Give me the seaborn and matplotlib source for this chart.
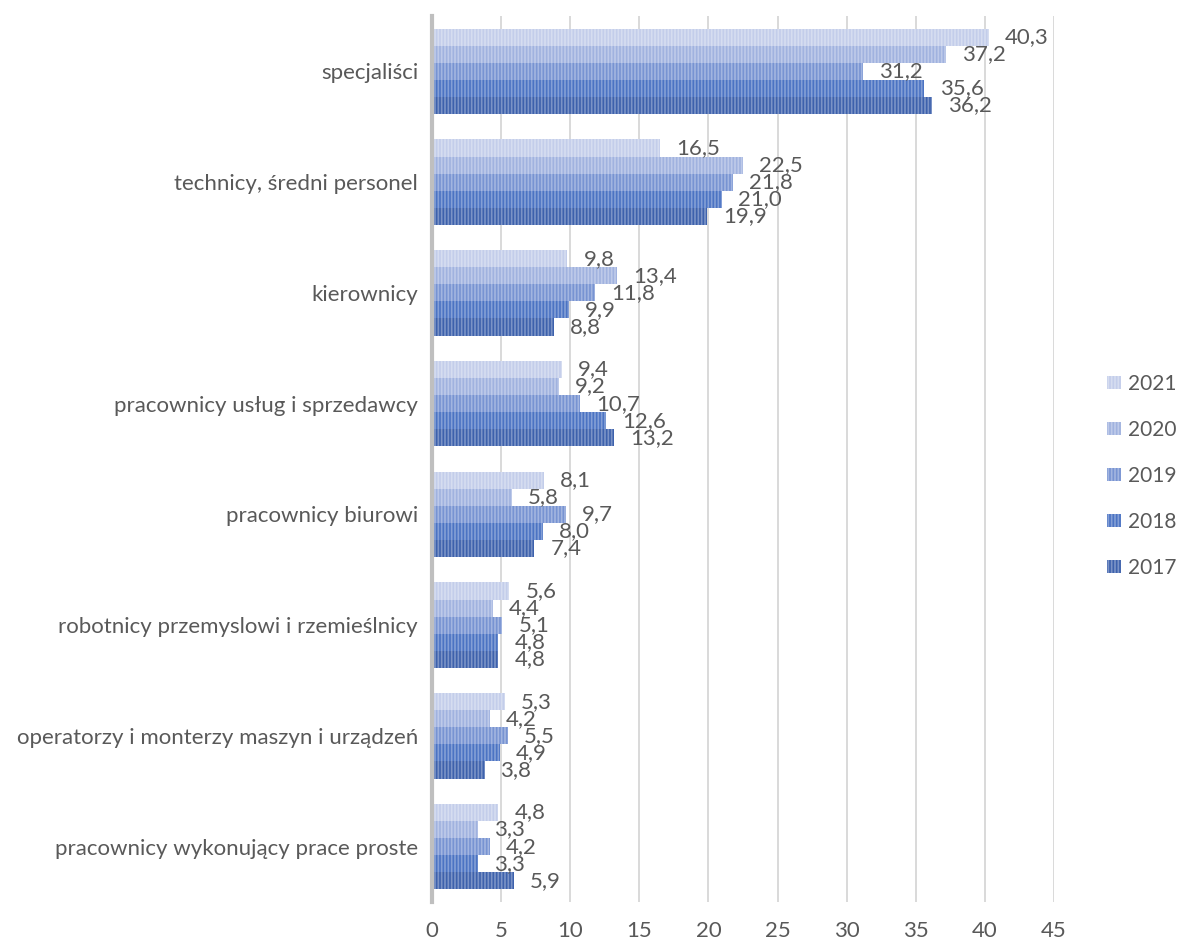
import matplotlib
matplotlib.use("Agg")
import matplotlib.pyplot as plt
import seaborn as sns
import pandas as pd

# Occupational groups (top to bottom) and survey years
categories = [
    "specjaliści",
    "technicy, średni personel",
    "kierownicy",
    "pracownicy usług i sprzedawcy",
    "pracownicy biurowi",
    "robotnicy przemyslowi i rzemieślnicy",
    "operatorzy i monterzy maszyn i urządzeń",
    "pracownicy wykonujący prace proste",
]
years = ["2021", "2020", "2019", "2018", "2017"]

values_2021 = [40.3, 16.5, 9.8, 9.4, 8.1, 5.6, 5.3, 4.8]
values_2020 = [37.2, 22.5, 13.4, 9.2, 5.8, 4.4, 4.2, 3.3]
values_2019 = [31.2, 21.8, 11.8, 10.7, 9.7, 5.1, 5.5, 4.2]
values_2018 = [35.6, 21.0, 9.9, 12.6, 8.0, 4.8, 4.9, 3.3]
values_2017 = [36.2, 19.9, 8.8, 13.2, 7.4, 4.8, 3.8, 5.9]

xticks = [0, 5, 10, 15, 20, 25, 30, 35, 40, 45]

series = {
    "2021": values_2021,
    "2020": values_2020,
    "2019": values_2019,
    "2018": values_2018,
    "2017": values_2017,
}

df = pd.DataFrame(
    [(cat, yr, v) for yr in years for cat, v in zip(categories, series[yr])],
    columns=["kategoria", "rok", "wartosc"],
)

palette = {
    "2021": "#c3cdea",
    "2020": "#a0b2df",
    "2019": "#7793d2",
    "2018": "#4b73c3",
    "2017": "#3d61ac",
}

sns.set_theme(style="white")
plt.rcParams["font.family"] = ["Lato", "DejaVu Sans"]
plt.rcParams["hatch.linewidth"] = 1.2

text_color = "#595959"
fs = 16
fs_leg = 15

fig = plt.figure(figsize=(11.78, 9.42), dpi=100)
ax = fig.add_axes([432 / 1178, 1 - 902 / 942, (1054 - 432) / 1178, (902 - 16) / 942])

sns.barplot(
    data=df, y="kategoria", x="wartosc", hue="rok",
    order=categories, hue_order=years, palette=palette,
    orient="h", width=0.77, saturation=1, ax=ax, legend=True,
)

stripe = (1, 1, 1, 0.32)
for container in ax.containers:
    for bar in container:
        bar.set_hatch("|||||")
        bar.set_edgecolor(stripe)
        bar.set_linewidth(0)

for container, yr in zip(ax.containers, years):
    labels = [f"{v:.1f}".replace(".", ",") for v in series[yr]]
    ax.bar_label(container, labels=labels, padding=11.5, fontsize=fs, color=text_color)

ax.set_xlim(0, 45)
ax.set_xticks(xticks)
ax.set_xticklabels([str(t) for t in xticks])
ax.set_xlabel("")
ax.set_ylabel("")
ax.xaxis.grid(True, color="#d9d9d9", linewidth=1.4)
ax.set_axisbelow(True)
for side in ["top", "right", "bottom"]:
    ax.spines[side].set_visible(False)
ax.spines["left"].set_color("#bfbfbf")
ax.spines["left"].set_linewidth(3)
ax.spines["left"].set_zorder(5)
ax.tick_params(axis="y", length=0, pad=10, labelsize=fs, labelcolor=text_color)
ax.tick_params(axis="x", length=0, pad=14, labelsize=fs, labelcolor=text_color)

handles, labels = ax.get_legend_handles_labels()
ax.get_legend().remove()
for h in handles:
    h.set_hatch("|||||")
    h.set_edgecolor(stripe)
    h.set_linewidth(0)
leg = fig.legend(
    handles, labels, loc="center left", bbox_to_anchor=(1107 / 1178, 1 - 476 / 942),
    frameon=False, fontsize=fs_leg, labelcolor=text_color,
    borderpad=0, borderaxespad=0,
    handlelength=0.67, handleheight=0.58, handletextpad=0.32, labelspacing=1.25,
)

fig.savefig("out.png", dpi=100)
